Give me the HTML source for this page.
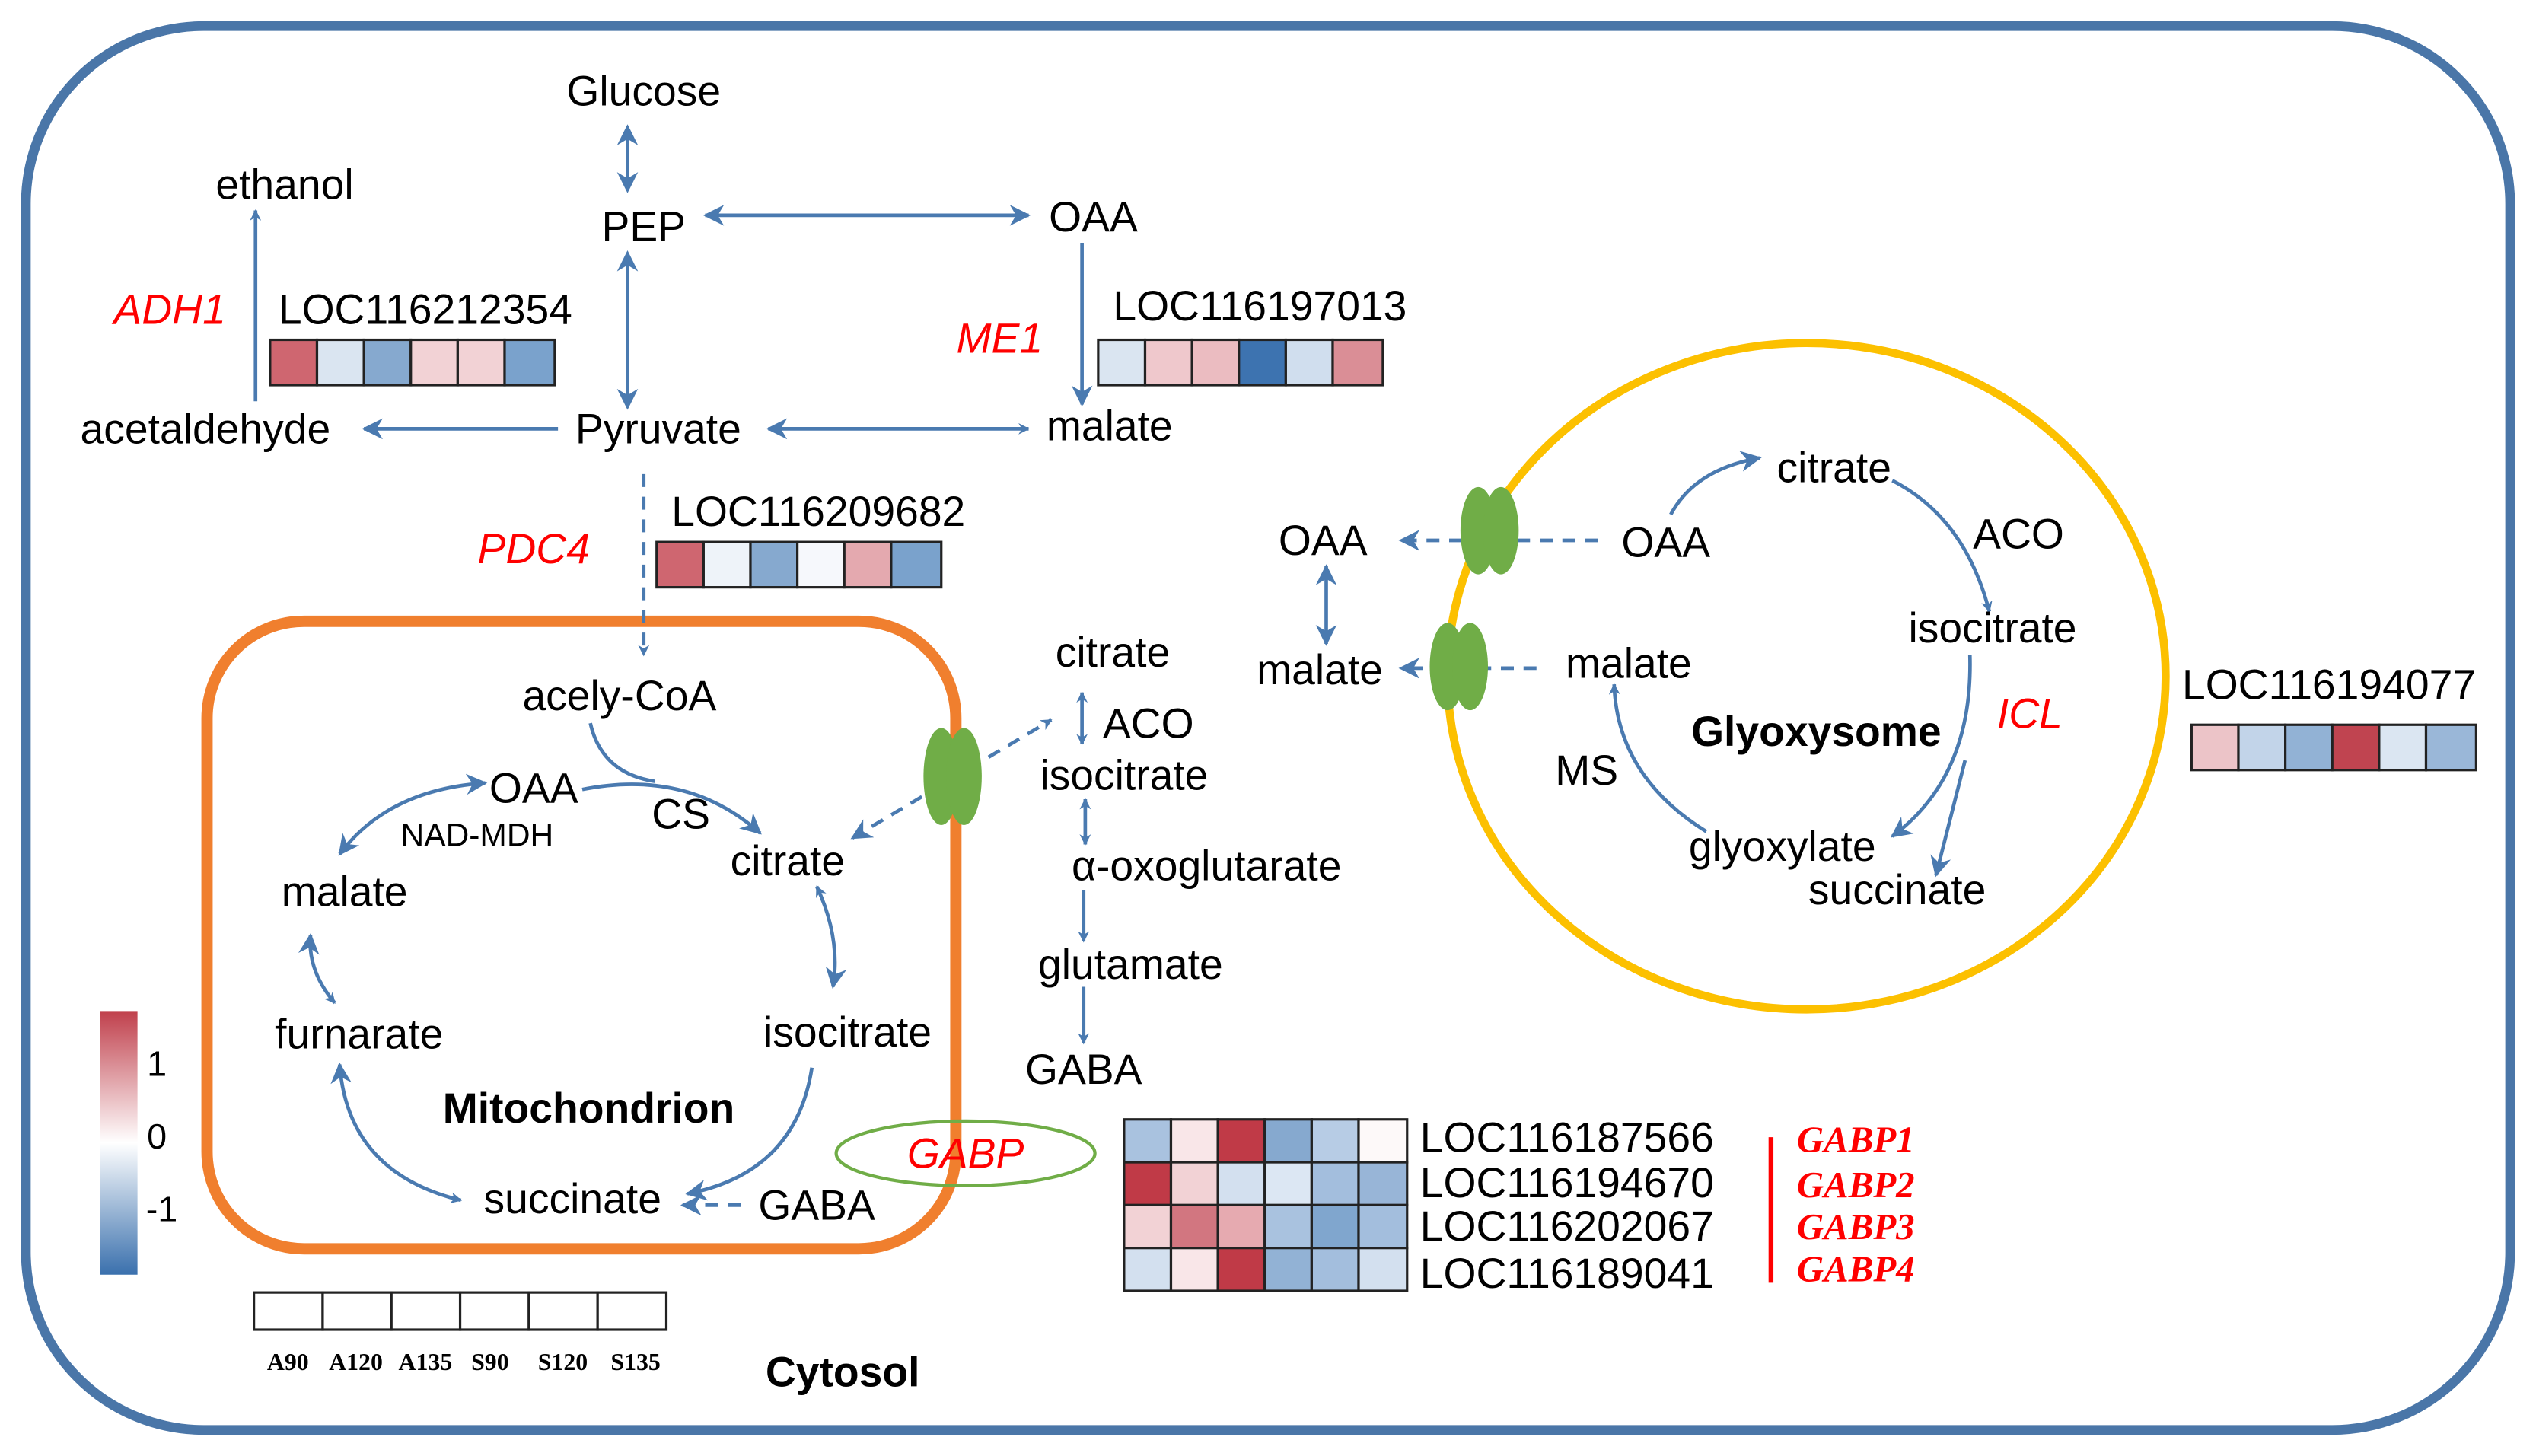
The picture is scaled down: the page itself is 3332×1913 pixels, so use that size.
<!DOCTYPE html>
<html><head><meta charset="utf-8"><style>
html,body{margin:0;padding:0;background:#fff;}
svg{display:block;}
text{font-family:"Liberation Sans",sans-serif;font-size:26px;fill:#000;}
.r{fill:#ff0000;font-style:italic;}
.b{font-weight:bold;}
.g{font-family:"Liberation Serif",serif;font-weight:bold;font-style:italic;fill:#ff0000;font-size:23px;}
.s{font-family:"Liberation Serif",serif;font-weight:bold;font-size:15px;}
.l{stroke:#4a7ab0;stroke-width:2.2;fill:none;}
.d{stroke:#4a7ab0;stroke-width:2.2;fill:none;stroke-dasharray:8 6;}
.hm rect{stroke:#222;stroke-width:1.5;}
</style></head><body>
<svg width="3332" height="1913" viewBox="0 0 1568 900" xmlns="http://www.w3.org/2000/svg">
<defs>
<marker id="a" viewBox="0 0 10 10" refX="9" refY="5" markerWidth="7" markerHeight="7" orient="auto-start-reverse" markerUnits="userSpaceOnUse">
<path d="M0,0 L10,5 L0,10 L3,5 Z" fill="#4a7ab0"/></marker>
<marker id="A" viewBox="0 0 10 10" refX="9" refY="5" markerWidth="13" markerHeight="13" orient="auto-start-reverse" markerUnits="userSpaceOnUse">
<path d="M0,0 L10,5 L0,10 L3,5 Z" fill="#4a7ab0"/></marker>
<linearGradient id="cb" x1="0" y1="0" x2="0" y2="1">
<stop offset="0" stop-color="#c0404c"/><stop offset="0.5" stop-color="#ffffff"/><stop offset="1" stop-color="#3a70ad"/></linearGradient>
</defs>
<rect x="16" y="16" width="1536" height="868" rx="110" fill="none" stroke="#4a76a8" stroke-width="6"/>
<rect x="128" y="384" width="463" height="388" rx="60" fill="none" stroke="#f07f2e" stroke-width="7"/>
<ellipse cx="1117" cy="418" rx="222" ry="206" fill="none" stroke="#fcc000" stroke-width="5"/>

<line class="l" x1="388" y1="78" x2="388" y2="118" marker-start="url(#A)" marker-end="url(#A)"/>
<line class="l" x1="436" y1="133" x2="636" y2="133" marker-start="url(#A)" marker-end="url(#A)"/>
<line class="l" x1="388" y1="156" x2="388" y2="252" marker-start="url(#A)" marker-end="url(#A)"/>
<line class="l" x1="669" y1="150" x2="669" y2="250" marker-end="url(#A)"/>
<line class="l" x1="158" y1="248" x2="158" y2="130" marker-end="url(#a)"/>
<line class="l" x1="345" y1="265" x2="225" y2="265" marker-end="url(#A)"/>
<line class="l" x1="475" y1="265" x2="636" y2="265" marker-start="url(#A)" marker-end="url(#a)"/>
<line class="d" x1="398" y1="293" x2="398" y2="405" marker-end="url(#a)"/>

<path class="l" d="M365 447 Q372 478 405 483"/>
<path class="l" d="M360 488 Q425 475 470 515" marker-end="url(#A)"/>
<path class="l" d="M210 528 Q240 488 300 484" marker-start="url(#A)" marker-end="url(#A)"/>
<path class="l" d="M505 548 Q520 580 515 610" marker-start="url(#a)" marker-end="url(#A)"/>
<path class="l" d="M502 660 Q492 725 425 738" marker-end="url(#A)"/>
<path class="l" d="M210 658 Q215 725 285 742" marker-start="url(#A)" marker-end="url(#a)"/>
<path class="l" d="M207 620 Q190 600 192 578" marker-start="url(#a)" marker-end="url(#A)"/>
<line class="d" x1="458" y1="745" x2="422" y2="745" marker-end="url(#A)"/>
<line class="d" x1="527" y1="518" x2="650" y2="445" marker-start="url(#A)" marker-end="url(#a)"/>

<line class="l" x1="669" y1="428" x2="669" y2="460" marker-start="url(#a)" marker-end="url(#a)"/>
<line class="l" x1="671" y1="494" x2="671" y2="522" marker-start="url(#a)" marker-end="url(#a)"/>
<line class="l" x1="670" y1="550" x2="670" y2="582" marker-end="url(#a)"/>
<line class="l" x1="670" y1="610" x2="670" y2="645" marker-end="url(#a)"/>

<line class="d" x1="988" y1="334" x2="866" y2="334" marker-end="url(#A)"/>
<line class="d" x1="950" y1="413" x2="866" y2="413" marker-end="url(#A)"/>
<line class="l" x1="820" y1="350" x2="820" y2="398" marker-start="url(#A)" marker-end="url(#A)"/>
<path class="l" d="M1033 318 Q1048 290 1088 283" marker-end="url(#A)"/>
<path class="l" d="M1170 297 Q1215 320 1230 378" marker-end="url(#a)"/>
<path class="l" d="M1218 405 Q1220 480 1170 517" marker-end="url(#A)"/>
<path class="l" d="M1215 470 Q1205 510 1197 541" marker-end="url(#A)"/>
<path class="l" d="M1055 514 Q1000 480 998 423" marker-end="url(#a)"/>

<g fill="#70ad47">
<ellipse cx="582" cy="480" rx="11" ry="30"/><ellipse cx="596" cy="480" rx="11" ry="30"/>
<ellipse cx="914" cy="328" rx="11" ry="27"/><ellipse cx="928" cy="328" rx="11" ry="27"/>
<ellipse cx="895" cy="412" rx="11" ry="27"/><ellipse cx="909" cy="412" rx="11" ry="27"/>
</g>
<ellipse cx="597" cy="713" rx="80" ry="20" fill="none" stroke="#70ad47" stroke-width="2"/>

<g class="hm">
<rect x="167" y="210" width="29" height="28" fill="#cf6670"/><rect x="196" y="210" width="29" height="28" fill="#dae5f1"/><rect x="225" y="210" width="29" height="28" fill="#86a9cf"/><rect x="254" y="210" width="29" height="28" fill="#f2d2d5"/><rect x="283" y="210" width="29" height="28" fill="#f2d2d5"/><rect x="312" y="210" width="31" height="28" fill="#7aa2cc"/>
<rect x="679" y="210" width="29" height="28" fill="#dae5f1"/><rect x="708" y="210" width="29" height="28" fill="#efc8cc"/><rect x="737" y="210" width="29" height="28" fill="#ebbcc1"/><rect x="766" y="210" width="29" height="28" fill="#3d73b0"/><rect x="795" y="210" width="29" height="28" fill="#d0deee"/><rect x="824" y="210" width="31" height="28" fill="#da8e96"/>
<rect x="406" y="335" width="29" height="28" fill="#cf6670"/><rect x="435" y="335" width="29" height="28" fill="#eef3f9"/><rect x="464" y="335" width="29" height="28" fill="#86a9cf"/><rect x="493" y="335" width="29" height="28" fill="#f6f8fc"/><rect x="522" y="335" width="29" height="28" fill="#e4a9af"/><rect x="551" y="335" width="31" height="28" fill="#7aa2cc"/>
<rect x="1355" y="448" width="29" height="28" fill="#ecc4c8"/><rect x="1384" y="448" width="29" height="28" fill="#c2d4e9"/><rect x="1413" y="448" width="29" height="28" fill="#92b2d5"/><rect x="1442" y="448" width="29" height="28" fill="#c04450"/><rect x="1471" y="448" width="29" height="28" fill="#dbe6f2"/><rect x="1500" y="448" width="31" height="28" fill="#9ab7d8"/>
<rect x="695" y="692" width="29" height="26.5" fill="#a9c2df"/><rect x="724" y="692" width="29" height="26.5" fill="#f9e6e8"/><rect x="753" y="692" width="29" height="26.5" fill="#c03a47"/><rect x="782" y="692" width="29" height="26.5" fill="#86a9cf"/><rect x="811" y="692" width="29" height="26.5" fill="#b7cce5"/><rect x="840" y="692" width="30" height="26.5" fill="#fdf9f9"/>
<rect x="695" y="718.5" width="29" height="26.5" fill="#c03a47"/><rect x="724" y="718.5" width="29" height="26.5" fill="#f2d2d5"/><rect x="753" y="718.5" width="29" height="26.5" fill="#d3e0ef"/><rect x="782" y="718.5" width="29" height="26.5" fill="#dce7f3"/><rect x="811" y="718.5" width="29" height="26.5" fill="#a3bedd"/><rect x="840" y="718.5" width="30" height="26.5" fill="#98b5d7"/>
<rect x="695" y="745" width="29" height="26.5" fill="#f2d2d5"/><rect x="724" y="745" width="29" height="26.5" fill="#d27680"/><rect x="753" y="745" width="29" height="26.5" fill="#e6aab0"/><rect x="782" y="745" width="29" height="26.5" fill="#a9c2df"/><rect x="811" y="745" width="29" height="26.5" fill="#80a6ce"/><rect x="840" y="745" width="30" height="26.5" fill="#a3bedd"/>
<rect x="695" y="771.5" width="29" height="26.5" fill="#d3e0ef"/><rect x="724" y="771.5" width="29" height="26.5" fill="#f9e6e8"/><rect x="753" y="771.5" width="29" height="26.5" fill="#c03a47"/><rect x="782" y="771.5" width="29" height="26.5" fill="#92b2d5"/><rect x="811" y="771.5" width="29" height="26.5" fill="#a3bedd"/><rect x="840" y="771.5" width="30" height="26.5" fill="#d3e0ef"/>
<rect x="157" y="799" width="42.5" height="23" fill="#fff"/><rect x="199.5" y="799" width="42.5" height="23" fill="#fff"/><rect x="242" y="799" width="42.5" height="23" fill="#fff"/><rect x="284.5" y="799" width="42.5" height="23" fill="#fff"/><rect x="327" y="799" width="42.5" height="23" fill="#fff"/><rect x="369.5" y="799" width="42.5" height="23" fill="#fff"/>
</g>
<rect x="62" y="625" width="23" height="163" fill="url(#cb)"/>
<line x1="1095" y1="703" x2="1095" y2="793" stroke="#ff0000" stroke-width="3"/>

<g text-anchor="middle">
<text x="398" y="65">Glucose</text>
<text x="176" y="123">ethanol</text>
<text x="398" y="149">PEP</text>
<text x="676" y="143">OAA</text>
<text class="r" x="105" y="200">ADH1</text>
<text x="263" y="200">LOC116212354</text>
<text class="r" x="618" y="218">ME1</text>
<text x="779" y="198">LOC116197013</text>
<text x="127" y="274">acetaldehyde</text>
<text x="407" y="274">Pyruvate</text>
<text x="686" y="272">malate</text>
<text x="506" y="325">LOC116209682</text>
<text class="r" x="330" y="348">PDC4</text>
<text x="383" y="439">acely-CoA</text>
<text x="330" y="496">OAA</text>
<text x="295" y="523" style="font-size:20px">NAD-MDH</text>
<text x="421" y="512">CS</text>
<text x="487" y="541">citrate</text>
<text x="213" y="560">malate</text>
<text x="222" y="648">furnarate</text>
<text x="524" y="647">isocitrate</text>
<text class="b" x="364" y="694">Mitochondrion</text>
<text x="354" y="750">succinate</text>
<text x="505" y="754">GABA</text>
<text class="r" x="597" y="722">GABP</text>
<text x="688" y="412">citrate</text>
<text x="710" y="456">ACO</text>
<text x="695" y="488">isocitrate</text>
<text x="746" y="544">α-oxoglutarate</text>
<text x="699" y="605">glutamate</text>
<text x="670" y="670">GABA</text>
<text x="818" y="343">OAA</text>
<text x="816" y="423">malate</text>
<text x="1030" y="344">OAA</text>
<text x="1134" y="298">citrate</text>
<text x="1248" y="339">ACO</text>
<text x="1232" y="397">isocitrate</text>
<text x="1007" y="419">malate</text>
<text class="b" x="1123" y="461">Glyoxysome</text>
<text class="r" x="1255" y="450">ICL</text>
<text x="981" y="485">MS</text>
<text x="1102" y="532">glyoxylate</text>
<text x="1173" y="559">succinate</text>
<text x="1440" y="432">LOC116194077</text>
<text x="97" y="665" style="font-size:22px">1</text>
<text x="97" y="710" style="font-size:22px">0</text>
<text x="100" y="755" style="font-size:22px">-1</text>
<text class="s" x="178" y="847">A90</text>
<text class="s" x="220" y="847">A120</text>
<text class="s" x="263" y="847">A135</text>
<text class="s" x="303" y="847">S90</text>
<text class="s" x="348" y="847">S120</text>
<text class="s" x="393" y="847">S135</text>
<text class="b" x="521" y="857">Cytosol</text>
</g>
<text x="878" y="712">LOC116187566</text>
<text x="878" y="740">LOC116194670</text>
<text x="878" y="767">LOC116202067</text>
<text x="878" y="796">LOC116189041</text>
<text class="g" x="1111" y="712">GABP1</text>
<text class="g" x="1111" y="740">GABP2</text>
<text class="g" x="1111" y="766">GABP3</text>
<text class="g" x="1111" y="792">GABP4</text>
</svg>
</body></html>
